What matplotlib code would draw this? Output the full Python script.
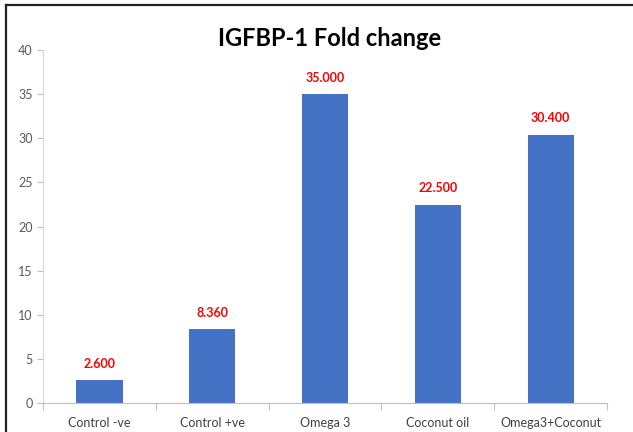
import numpy as np
import matplotlib.pyplot as plt
from matplotlib.lines import Line2D

categories = ['Control -ve', 'Control +ve', 'Omega 3', 'Coconut oil', 'Omega3+Coconut']
values = [2.600, 8.360, 35.000, 22.500, 30.400]
y_ticks = [0, 5, 10, 15, 20, 25, 30, 35, 40]

plt.rcParams['font.family'] = ['Lato', 'DejaVu Sans']

fig = plt.figure(figsize=(6.33, 4.32), dpi=100)
ax = fig.add_axes([0.068, 0.067, 0.891, 0.817])

x = np.arange(len(categories))
ax.bar(x, values, width=0.41, color='#4472C4')

for xi, v in zip(x, values):
    ax.text(xi, v + 1.2, f'{v:.3f}', ha='center', va='bottom',
            color='#FF0000', fontsize=9, fontweight='bold')

ax.set_xlim(-0.5, len(categories) - 0.5)
ax.set_ylim(0, 40)
ax.set_yticks(y_ticks)
ax.set_xticks(x)
ax.set_xticklabels(categories)
ax.set_xticks(np.arange(len(categories) + 1) - 0.5, minor=True)

ax.tick_params(axis='y', colors='#BFBFBF', labelcolor='#595959', labelsize=9, length=4, width=0.8)
ax.tick_params(axis='x', which='major', length=0, labelcolor='#404040', labelsize=9, pad=10)
ax.tick_params(axis='x', which='minor', length=5, color='#BFBFBF', width=0.8)

for side in ['top', 'right']:
    ax.spines[side].set_visible(False)
ax.spines['left'].set_color('#D9D9D9')
ax.spines['bottom'].set_color('#BFBFBF')

fig.text(0.52, 0.912, 'IGFBP-1 Fold change', ha='center', va='center',
         fontsize=17, fontweight='bold', color='#000000')

# frame lines along top and left edge
fig.add_artist(Line2D([0.010, 1.0], [0.988, 0.988], transform=fig.transFigure, color='#222222', lw=1.6))
fig.add_artist(Line2D([0.010, 0.010], [0.0, 0.988], transform=fig.transFigure, color='#222222', lw=1.6))

fig.savefig('out.png', dpi=100)
